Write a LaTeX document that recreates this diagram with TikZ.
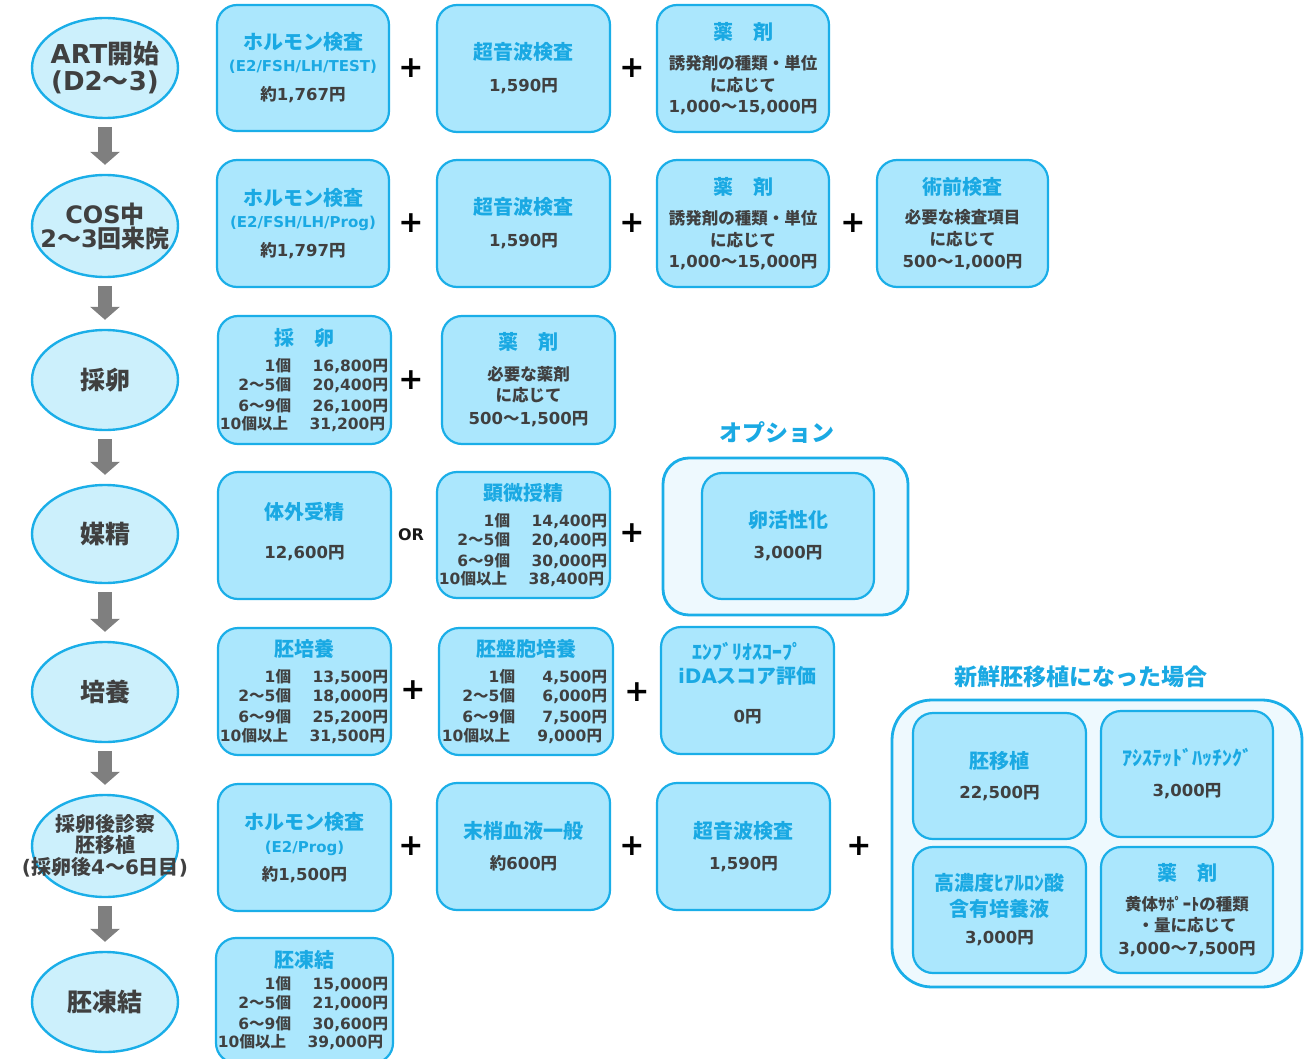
\documentclass[tikz,border=0pt]{standalone}
\usepackage{fontspec}
\setmainfont{DejaVu Sans}
\newfontfamily\cjkf{Noto Sans CJK JP}
\usetikzlibrary{shapes.geometric,arrows.meta}
% automatic switch to the CJK font for Japanese characters
\XeTeXinterchartokenstate=1
\newXeTeXintercharclass\CJKcls
\newcount\cjkcc
\cjkcc="3000
\loop\ifnum\cjkcc<"A000\relax
  \XeTeXcharclass\cjkcc=\CJKcls
  \advance\cjkcc by 1
\repeat
\cjkcc="FF00
\loop\ifnum\cjkcc<"FFF0\relax
  \XeTeXcharclass\cjkcc=\CJKcls
  \advance\cjkcc by 1
\repeat
\XeTeXinterchartoks 0 \CJKcls = {\begingroup\cjkf}
\XeTeXinterchartoks 4095 \CJKcls = {\begingroup\cjkf}
\XeTeXinterchartoks \CJKcls 0 = {\endgroup}
\XeTeXinterchartoks \CJKcls 4095 = {\endgroup}

\definecolor{cyanb}{HTML}{1AAEE8}
\definecolor{ttl}{HTML}{1AA9E3}
\definecolor{boxf}{HTML}{ABE7FD}
\definecolor{ellf}{HTML}{CCF0FC}
\definecolor{outf}{HTML}{EEF9FE}
\definecolor{dark}{HTML}{404040}
\definecolor{arr}{HTML}{7F7F7F}

\newcommand\efont[1]{\fontsize{#1}{0pt}\selectfont\bfseries\lineskiplimit=-1000pt\relax}
\newcommand\bodyfont{\efont{16.5}}
\newcommand\ttlx[1]{{\color{ttl}\fontsize{20}{0pt}\selectfont #1}}
\newcommand\subx[1]{{\color{ttl}\fontsize{15}{0pt}\selectfont #1}}
\newcommand\tblf{\fontsize{15.5}{0pt}\selectfont}
\newcommand\rowA[2]{{\tblf\makebox[70pt][r]{#1}\hspace{22pt}\makebox[75pt][r]{#2}\hspace*{6pt}}}
\newcommand\rowB[2]{{\tblf\makebox[70pt][r]{#1}\hspace{22pt}\makebox[70pt][r]{#2}\hspace*{10pt}}}
\newcommand\rowC[2]{{\tblf\makebox[70pt][r]{#1}\hspace{22pt}\makebox[75pt][r]{#2}\hspace*{10pt}}}
\newcommand\zw[1]{\makebox[0pt]{#1}}

\tikzset{
  box/.style={draw=cyanb, line width=2.2pt, fill=boxf, rounded corners=20pt,
    align=center, inner sep=0pt, font=\bodyfont, text=dark},
  ell/.style={ellipse, draw=cyanb, line width=2.4pt, fill=ellf, align=center,
    inner sep=0pt, text=dark, minimum width=146pt, minimum height=100pt},
  outerbox/.style={draw=cyanb, line width=2.8pt, fill=outf},
  plus/.style={font=\fontsize{30}{30}\selectfont\bfseries, text=black, inner sep=0pt},
  orlbl/.style={font=\fontsize{16}{16}\selectfont\bfseries, text=black!90, inner sep=0pt},
  grplbl/.style={font=\fontsize{23}{23}\selectfont\bfseries, text=ttl, inner sep=0pt},
  blockarr/.style={draw=arr, line width=14pt, -{Triangle[width=29pt,length=13pt]},
    shorten <=8pt, shorten >=9pt},
}

\begin{document}
\begin{tikzpicture}[x=1pt,y=-1pt]
\useasboundingbox (0,0) rectangle (1316,1059);
\clip (0,0) rectangle (1316,1059);

% ---------- group frames ----------
\node[outerbox, rounded corners=26pt, minimum width=245pt, minimum height=157pt] (opt) at (785.5,536.5) {};
\node[grplbl] (optlbl) at (777,433) {オプション};
\node[outerbox, rounded corners=40pt, minimum width=410pt, minimum height=287pt] (fresh) at (1097,843.5) {};
\node[grplbl] (freshlbl) at (1081,677) {新鮮胚移植になった場合};

% ---------- left column ellipses ----------
\node[ell, font={\efont{26}}] (e1) at (105,68) {\zw{ART開始}\\[27pt]\zw{(D2〜3)}};
\node[ell, font={\efont{24}}, minimum height=102pt] (e2) at (105,226) {\zw{COS中}\\[24pt]\zw{2〜3回来院}};
\node[ell, font={\efont{25}}] (e3) at (105,380) {\zw{採卵}};
\node[ell, font={\efont{25}}, minimum height=98pt] (e4) at (105,534) {\zw{媒精}};
\node[ell, font={\efont{25}}] (e5) at (105,692) {\zw{培養}};
\node[ell, font={\efont{20}}, minimum height=102pt] (e6) at (105,846) {\zw{採卵後診察}\\[21pt]\zw{胚移植}\\[22pt]\zw{(採卵後4〜6日目)}};
\node[ell, font={\efont{25}}] (e7) at (105,1002) {\zw{胚凍結}};

\draw[blockarr] (e1) -- (e2);
\draw[blockarr] (e2) -- (e3);
\draw[blockarr] (e3) -- (e4);
\draw[blockarr] (e4) -- (e5);
\draw[blockarr] (e5) -- (e6);
\draw[blockarr] (e6) -- (e7);

% ---------- row 1 ----------
\node[box, minimum width=172pt, minimum height=126pt] (b11) at (303,68)
  {\ttlx{ホルモン検査}\\[22pt]\subx{(E2/FSH/LH/TEST)}\\[29pt]約1,767円};
\node[box, minimum width=173pt, minimum height=127pt] (b12) at (523.5,68.5)
  {\ttlx{超音波検査}\\[32pt]1,590円};
\node[box, minimum width=172pt, minimum height=127pt] (b13) at (743,68.5)
  {\ttlx{薬　剤}\\[30pt]誘発剤の種類・単位\\[22pt]に応じて\\[21pt]1,000〜15,000円};
\node[plus] (p11) at (411,68) {+};
\node[plus] (p12) at (632,68) {+};

% ---------- row 2 ----------
\node[box, minimum width=172pt, minimum height=127pt] (b21) at (303,223.5)
  {\ttlx{ホルモン検査}\\[22pt]\subx{(E2/FSH/LH/Prog)}\\[29pt]約1,797円};
\node[box, minimum width=173pt, minimum height=127pt] (b22) at (523.5,223.5)
  {\ttlx{超音波検査}\\[32pt]1,590円};
\node[box, minimum width=172pt, minimum height=127pt] (b23) at (743,223.5)
  {\ttlx{薬　剤}\\[30pt]誘発剤の種類・単位\\[22pt]に応じて\\[21pt]1,000〜15,000円};
\node[box, minimum width=171pt, minimum height=127pt] (b24) at (962.5,223.5)
  {\ttlx{術前検査}\\[29pt]必要な検査項目\\[22pt]に応じて\\[22pt]500〜1,000円};
\node[plus] (p21) at (411,223) {+};
\node[plus] (p22) at (632,223) {+};
\node[plus] (p23) at (853,223) {+};

% ---------- row 3 ----------
\node[box, minimum width=173pt, minimum height=128pt] (b31) at (304.5,380)
  {\ttlx{採　卵}\\[26pt]\rowA{1個}{16,800円}\\[19pt]\rowA{2〜5個}{20,400円}\\[21pt]\rowA{6〜9個}{26,100円}\\[18pt]\rowA{10個以上}{31,200円}};
\node[box, minimum width=173pt, minimum height=128pt] (b32) at (528.5,380)
  {\ttlx{薬　剤}\\[31pt]必要な薬剤\\[21pt]に応じて\\[23pt]500〜1,500円};
\node[plus] (p31) at (411,380) {+};

% ---------- row 4 ----------
\node[box, minimum width=173pt, minimum height=127pt] (b41) at (304.5,535.5)
  {\ttlx{体外受精}\\[39pt]12,600円\\[10pt]\mbox{}};
\node[box, minimum width=173pt, minimum height=126pt] (b42) at (523.5,535)
  {\ttlx{顕微授精}\\[26pt]\rowA{1個}{14,400円}\\[19pt]\rowA{2〜5個}{20,400円}\\[21pt]\rowA{6〜9個}{30,000円}\\[18pt]\rowA{10個以上}{38,400円}};
\node[box, minimum width=172pt, minimum height=126pt] (b43) at (788,536)
  {\ttlx{卵活性化}\\[31pt]3,000円};
\node[orlbl] (or41) at (411,535) {OR};
\node[plus] (p42) at (632,533) {+};

% ---------- row 5 ----------
\node[box, minimum width=173pt, minimum height=127pt] (b51) at (304.5,691.5)
  {\ttlx{胚培養}\\[26pt]\rowA{1個}{13,500円}\\[19pt]\rowA{2〜5個}{18,000円}\\[21pt]\rowA{6〜9個}{25,200円}\\[19pt]\rowA{10個以上}{31,500円}};
\node[box, minimum width=174pt, minimum height=127pt] (b52) at (526,691.5)
  {\ttlx{胚盤胞培養}\\[26pt]\rowB{1個}{4,500円}\\[19pt]\rowB{2〜5個}{6,000円}\\[21pt]\rowB{6〜9個}{7,500円}\\[19pt]\rowB{10個以上}{9,000円}};
\node[box, minimum width=173pt, minimum height=127pt] (b53) at (747.5,690.5)
  {\ttlx{ｴﾝﾌﾞﾘｵｽｺｰﾌﾟ}\\[24pt]\ttlx{iDAスコア評価}\\[39pt]0円\\[16pt]\mbox{}};
\node[plus] (p51) at (413,690) {+};
\node[plus] (p52) at (637,692) {+};

% ---------- row 6 ----------
\node[box, minimum width=173pt, minimum height=127pt] (b61) at (304.5,847.5)
  {\ttlx{ホルモン検査}\\[23pt]\subx{(E2/Prog)}\\[28pt]約1,500円};
\node[box, minimum width=173pt, minimum height=127pt] (b62) at (523.5,846.5)
  {\ttlx{末梢血液一般}\\[31pt]約600円};
\node[box, minimum width=173pt, minimum height=127pt] (b63) at (743.5,846.5)
  {\ttlx{超音波検査}\\[31pt]1,590円};
\node[plus] (p61) at (411,846) {+};
\node[plus] (p62) at (632,846) {+};
\node[plus] (p63) at (859,846) {+};

% ---------- row 7 ----------
\node[box, minimum width=173pt, minimum height=125pt] (b71) at (304.5,1000.5)
  {\ttlx{胚凍結}\\[22pt]\rowC{1個}{15,000円}\\[19pt]\rowC{2〜5個}{21,000円}\\[21pt]\rowC{6〜9個}{30,600円}\\[18pt]\rowC{10個以上}{39,000円}};

% ---------- fresh embryo transfer group ----------
\node[box, minimum width=173pt, minimum height=126pt] (f1) at (999.5,776)
  {\ttlx{胚移植}\\[30pt]22,500円};
\node[box, minimum width=172pt, minimum height=126pt] (f2) at (1187,774)
  {\ttlx{ｱｼｽﾃｯﾄﾞﾊｯﾁﾝｸﾞ}\\[31pt]3,000円};
\node[box, minimum width=173pt, minimum height=126pt] (f3) at (999.5,910)
  {\ttlx{高濃度ﾋｱﾙﾛﾝ酸}\\[26pt]\ttlx{含有培養液}\\[27pt]3,000円};
\node[box, minimum width=172pt, minimum height=126pt] (f4) at (1187,910)
  {\ttlx{薬　剤}\\[30pt]黄体ｻﾎﾟｰﾄの種類\\[21pt]・量に応じて\\[23pt]3,000〜7,500円};
\end{tikzpicture}
\end{document}
